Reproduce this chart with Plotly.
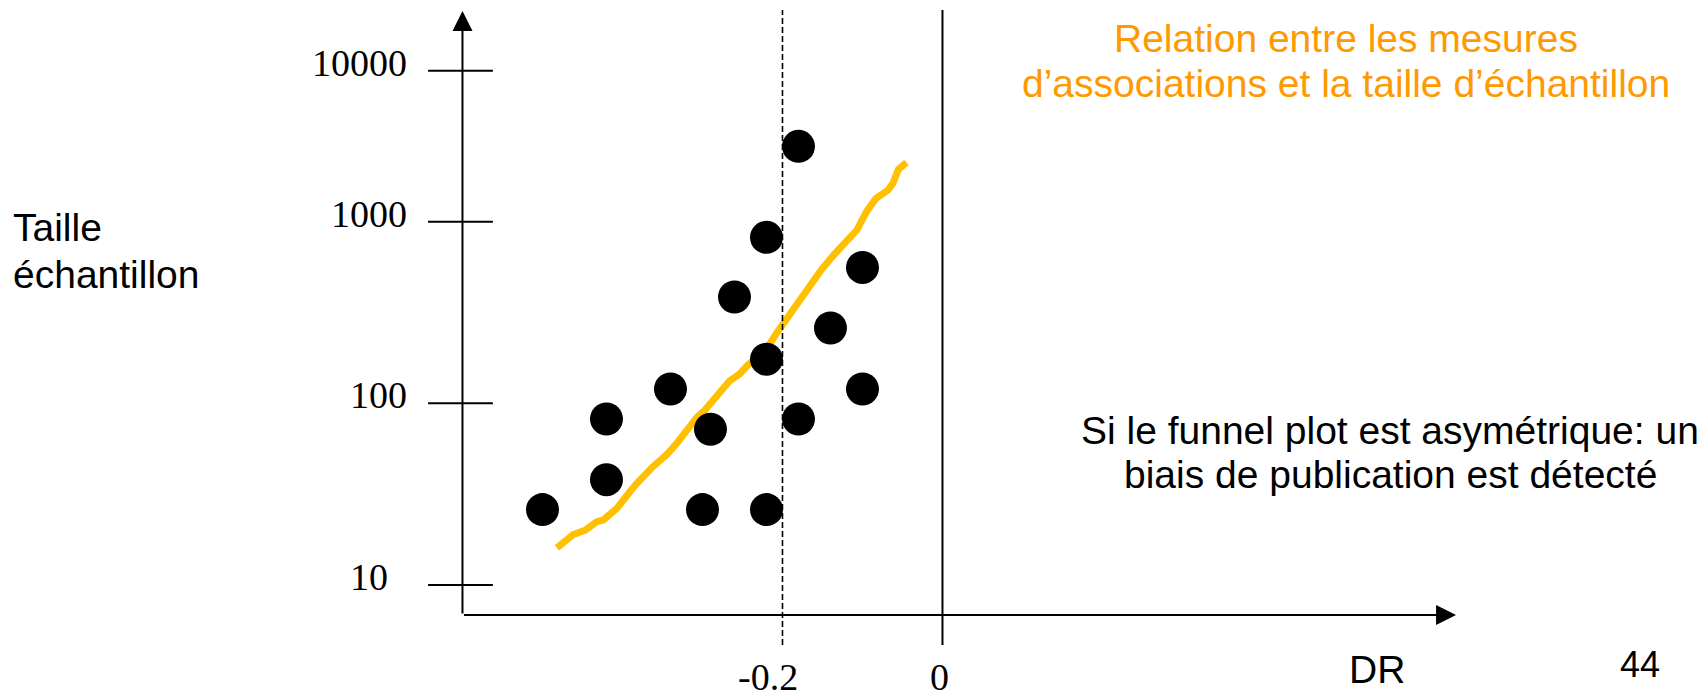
import math
import plotly.graph_objects as go

# ---------------- data ----------------
# individual studies: association measure (DR) and sample size
study_dr = [-0.18, -0.22, -0.10, -0.26, -0.14, -0.22, -0.34, -0.10,
            -0.42, -0.18, -0.29, -0.42, -0.50, -0.30, -0.22]
study_n = [2600, 820, 560, 385, 260, 175, 120, 120,
           82, 82, 72, 38, 26, 26, 26]

# hand-drawn orange trend line
trend_dr = [-0.482, -0.462, -0.446, -0.432, -0.424, -0.407, -0.395, -0.382,
            -0.362, -0.345, -0.332, -0.320, -0.307, -0.297, -0.287, -0.276,
            -0.266, -0.253, -0.243, -0.230, -0.218, -0.207, -0.199, -0.191,
            -0.182, -0.170, -0.159, -0.151, -0.137, -0.126, -0.114, -0.107,
            -0.095, -0.083, -0.068, -0.062, -0.055, -0.045]
trend_n = [16.0, 18.9, 20.1, 22.3, 22.8, 26.4, 30.9, 36.3,
           44.8, 52.0, 60.3, 71.3, 83.8, 91.9, 104, 121,
           133, 146, 163, 181, 205, 245, 276, 307,
           355, 421, 482, 547, 648, 729, 845, 900,
           1135, 1345, 1494, 1627, 1943, 2123]

# y ticks (the slide draws its top decade compressed: "10000" sits where drawn)
y_tick_vals = [10, 100, 1000, 6780]
y_tick_text = ["10", "100", "1000", "10000"]
x_tick_vals = [-0.2, 0]
x_tick_text = ["-0.2", "0"]
ref_lines = [-0.2, 0]          # dashed reference, solid null line
ref_dash = ["6px,3px", "solid"]

title_lines = ["Relation entre les mesures",
               "d\u2019associations et la taille d\u2019\u00e9chantillon"]
note_lines = ["Si le funnel plot est asym\u00e9trique: un",
              "biais de publication est d\u00e9tect\u00e9"]
ylabel_lines = ["Taille", "\u00e9chantillon"]
xlabel = "DR"
page_no = "44"

# ---------------- layout geometry ----------------
W, H = 1708, 697
X_RANGE = [-1.1781, 0.9569]
Y_RANGE = [0.3834, 4.2205]   # log10 units
AXIS_X = -0.6                 # where the vertical axis crosses
AXIS_Y = 6.84                 # where the horizontal axis crosses
Y_TOP = 10 ** 4.16
X_END = 0.642

SERIF = "Liberation Serif, Times New Roman, serif"
SANS = "Liberation Sans, Arial, sans-serif"


def px(x, y):
    """pixel position -> paper coordinates (plot area = whole figure)"""
    return x / W, 1 - y / H


fig = go.Figure()

fig.add_trace(go.Scatter(
    x=trend_dr, y=trend_n, mode="lines",
    line=dict(color="#FFC000", width=7),
    hoverinfo="skip"))

fig.add_trace(go.Scatter(
    x=study_dr, y=study_n, mode="markers",
    marker=dict(color="black", size=33, line=dict(width=0))))

shapes = []
# crossing tick marks
for v in y_tick_vals:
    shapes.append(dict(type="line", xref="x", yref="y",
                       x0=-0.643, x1=-0.562, y0=v, y1=v,
                       line=dict(color="black", width=2)))
# vertical reference lines
for v, d in zip(ref_lines, ref_dash):
    shapes.append(dict(type="line", xref="x", yref="paper",
                       x0=v, x1=v, y0=px(0, 645)[1], y1=px(0, 10)[1],
                       line=dict(color="black", width=1.6 if d != "solid" else 2,
                                 dash=d)))

annotations = []
# axis arrows
annotations.append(dict(x=X_END, y=math.log10(AXIS_Y), ax=AXIS_X, ay=math.log10(AXIS_Y),
                        xref="x", yref="y", axref="x", ayref="y", text="",
                        showarrow=True, arrowhead=2, arrowsize=2, arrowwidth=2,
                        arrowcolor="black", standoff=0))
annotations.append(dict(x=AXIS_X, y=math.log10(Y_TOP), ax=AXIS_X, ay=math.log10(AXIS_Y),
                        xref="x", yref="y", axref="x", ayref="y", text="",
                        showarrow=True, arrowhead=2, arrowsize=2, arrowwidth=2,
                        arrowcolor="black", standoff=0))
# y tick labels
for v, t in zip(y_tick_vals, y_tick_text):
    annotations.append(dict(x=px(409, 0)[0], y=math.log10(v), xref="paper", yref="y",
                            text=t, showarrow=False, xanchor="right", yanchor="middle",
                            xshift=-19 if t == "10" else 0, yshift=8,
                            font=dict(family=SERIF, size=38, color="black")))
# x tick labels
for v, t in zip(x_tick_vals, x_tick_text):
    annotations.append(dict(x=v, y=px(0, 677)[1], xref="x", yref="paper",
                            text=t, showarrow=False, xanchor="center", yanchor="middle",
                            xshift=-14 if t == "-0.2" else -2.5,
                            font=dict(family=SERIF, size=38, color="black")))
# texts
for t, yy in zip(title_lines, [39, 83]):
    xp, yp = px(1346, yy)
    annotations.append(dict(x=xp, y=yp, xref="paper", yref="paper", text=t,
                            showarrow=False, xanchor="center", yanchor="middle",
                            font=dict(family=SANS, size=39, color="#FF9900")))
for t, yy in zip(note_lines, [430, 474]):
    xp, yp = px(1390, yy)
    annotations.append(dict(x=xp, y=yp, xref="paper", yref="paper", text=t,
                            showarrow=False, xanchor="center", yanchor="middle",
                            font=dict(family=SANS, size=39, color="black")))
for t, yy in zip(ylabel_lines, [227.7, 274.3]):
    xp, yp = px(10.5, yy)
    annotations.append(dict(x=xp, y=yp, xref="paper", yref="paper", text=t,
                            showarrow=False, xanchor="left", yanchor="middle",
                            font=dict(family=SANS, size=39, color="black")))
xp, yp = px(1377, 669)
annotations.append(dict(x=xp, y=yp, xref="paper", yref="paper", text=xlabel,
                        showarrow=False, xanchor="center", yanchor="middle",
                        font=dict(family=SANS, size=39, color="black")))
xp, yp = px(1640, 664)
annotations.append(dict(x=xp, y=yp, xref="paper", yref="paper", text=page_no,
                        showarrow=False, xanchor="center", yanchor="middle",
                        font=dict(family=SANS, size=36, color="black")))

fig.update_layout(
    width=W, height=H,
    margin=dict(l=0, r=0, t=0, b=0),
    paper_bgcolor="white", plot_bgcolor="white",
    showlegend=False,
    xaxis=dict(range=X_RANGE, visible=False, fixedrange=True),
    yaxis=dict(type="log", range=Y_RANGE, visible=False, fixedrange=True),
    shapes=shapes,
    annotations=annotations,
)

fig.write_html("out.html")
